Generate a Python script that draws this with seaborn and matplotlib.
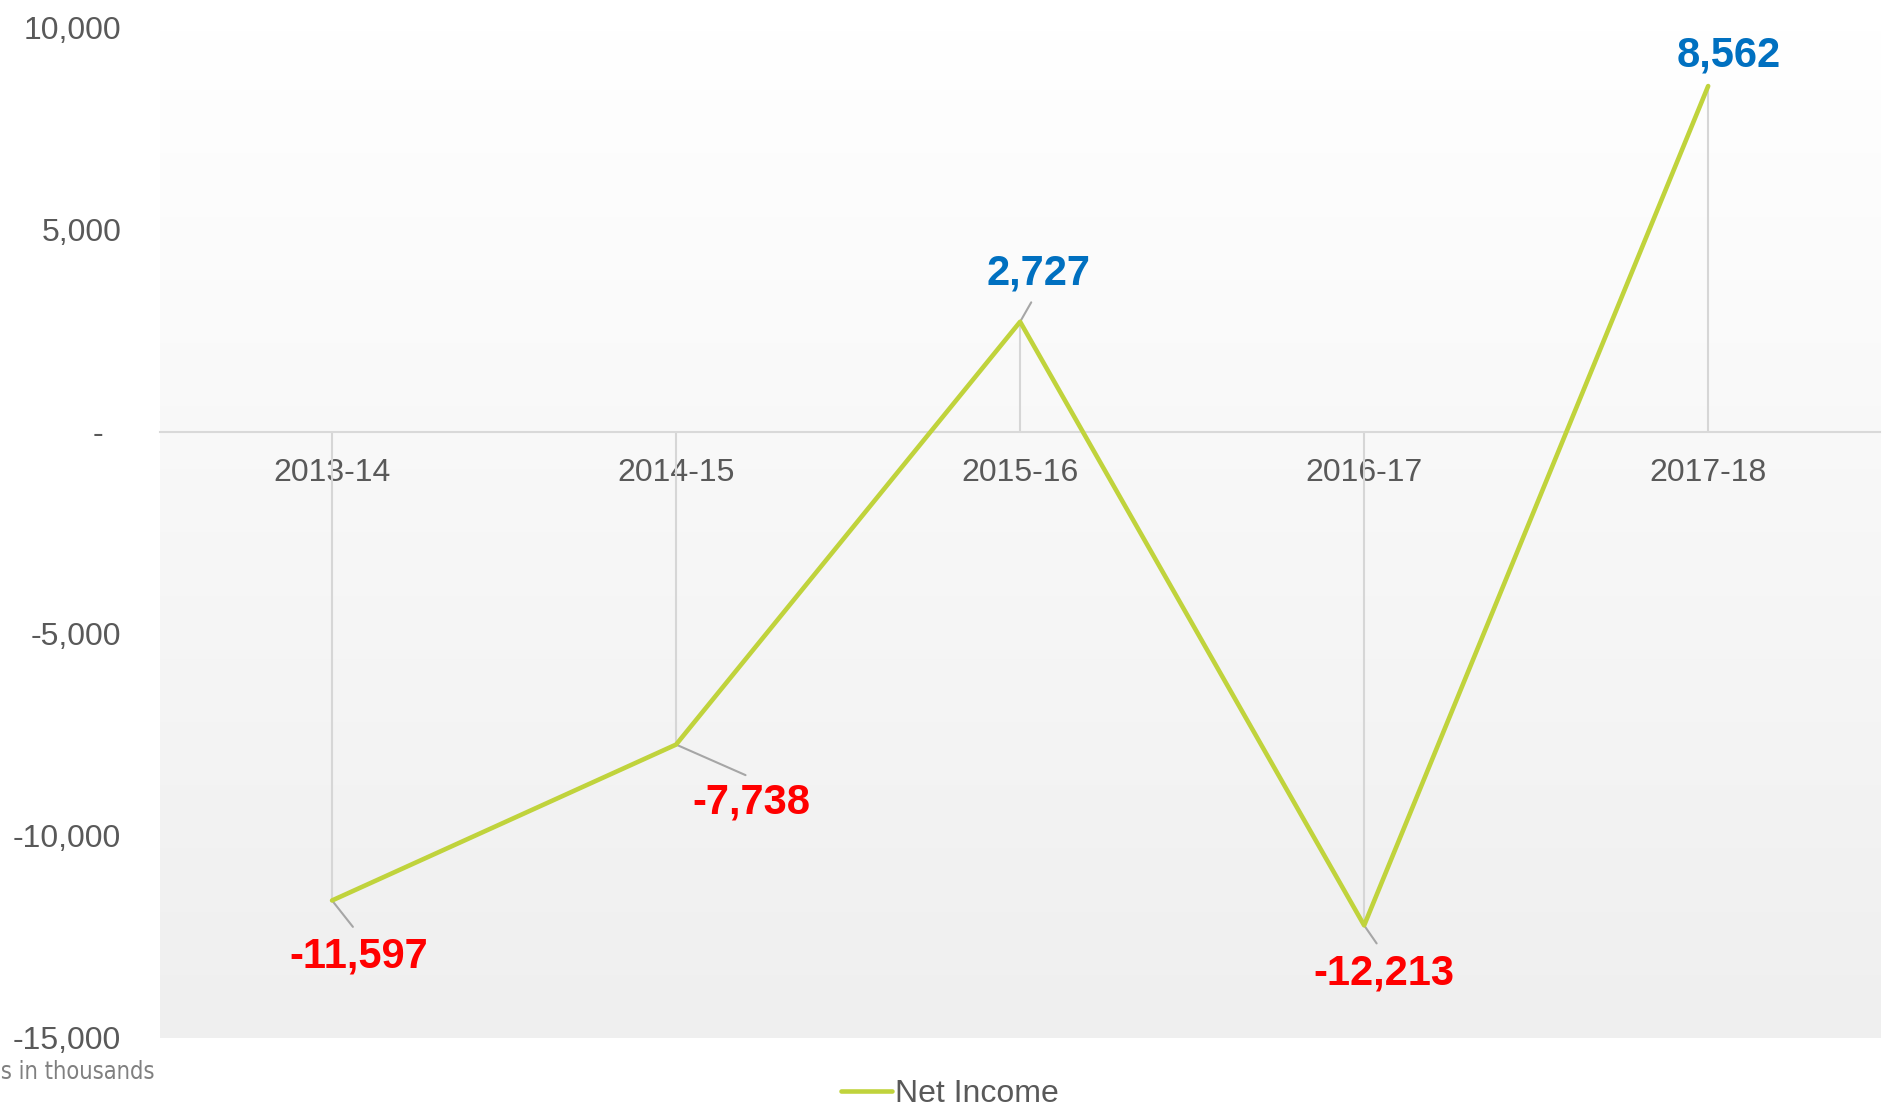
import matplotlib
matplotlib.use("Agg")
import matplotlib.pyplot as plt
from matplotlib.colors import LinearSegmentedColormap
from matplotlib.ticker import FuncFormatter
import seaborn as sns
import numpy as np
import pandas as pd

# ---------- data ----------
years = ["2013-14", "2014-15", "2015-16", "2016-17", "2017-18"]
net_income = [-11597, -7738, 2727, -12213, 8562]
y_ticks = [-15000, -10000, -5000, 0, 5000, 10000]
# label offsets in points (dx, dy), leader-line end offsets (None = no leader)
label_offsets = [(19, -40), (54, -42), (13, 35), (14, -35), (15, 22)]
leader_ends = [(15, -19), (50, -22), (8, 14), (9, -13), None]

LINE = "#c0d33c"
TXT = "#595959"

sns.set_style("white")
plt.rcParams["font.family"] = ["Liberation Sans", "DejaVu Sans"]

df = pd.DataFrame({"Year": years, "Net Income": net_income})

fig = plt.figure(figsize=(18.83, 11.18), dpi=100)
ax = fig.add_axes([0.085, 0.0716, 0.9135, 0.9034])

# gradient plot-area background
cmap = LinearSegmentedColormap.from_list("bg", ["#ffffff", "#efefef"])
ax.imshow(np.linspace(0, 1, 256).reshape(-1, 1), cmap=cmap, aspect="auto",
          extent=[0, 1, 0, 1], transform=ax.transAxes, zorder=0)

# drop lines from each point to zero
ax.vlines(range(len(years)), 0, net_income, color="#d6d6d6", lw=1.5, zorder=1)

sns.lineplot(data=df, x="Year", y="Net Income", ax=ax, color=LINE, lw=3.3,
             label="Net Income", zorder=3, sort=False)

# data labels + leader lines
for i, v in enumerate(net_income):
    col = "#0070c0" if v > 0 else "#ff0000"
    ax.annotate(f"{v:,}", xy=(i, v), xytext=label_offsets[i], textcoords="offset points",
                ha="center", va="center", fontsize=30, fontweight="bold", color=col,
                zorder=4)
    if leader_ends[i] is not None:
        ax.annotate("", xy=(i, v), xytext=leader_ends[i], textcoords="offset points",
                    arrowprops=dict(arrowstyle="-", color="#a6a6a6", lw=1.5,
                                    shrinkA=0, shrinkB=0), zorder=2)

ax.set_xlim(-0.5, len(years) - 0.5)
ax.set_ylim(y_ticks[0], y_ticks[-1])
ax.set_yticks(y_ticks)
ax.yaxis.set_major_formatter(FuncFormatter(lambda v, _: "-  " if v == 0 else f"{v:,.0f}"))
ax.set_xlabel("")
ax.set_ylabel("")

for s in ["top", "right", "left"]:
    ax.spines[s].set_visible(False)
ax.spines["bottom"].set_position(("data", 0))
ax.spines["bottom"].set_color("#d9d9d9")
ax.spines["bottom"].set_linewidth(1.5)
ax.spines["bottom"].set_zorder(2)

ax.tick_params(axis="y", length=0, pad=28, labelsize=23, labelcolor=TXT)
ax.tick_params(axis="x", length=0, pad=19, labelsize=23, labelcolor=TXT)

# legend at the bottom
handles, labels = ax.get_legend_handles_labels()
ax.get_legend().remove()
fig.legend(handles, labels, loc="center", bbox_to_anchor=(0.5045, 24 / 1118),
           frameon=False, fontsize=23, labelcolor=TXT, handlelength=1.6,
           handletextpad=0.1)

fig.text(155 / 1883, 1 - 1072 / 1118, "Values in thousands", ha="right", va="center",
         fontsize=17, color="#808080", family="DejaVu Sans", stretch="condensed")

fig.savefig("out.png", dpi=100)
